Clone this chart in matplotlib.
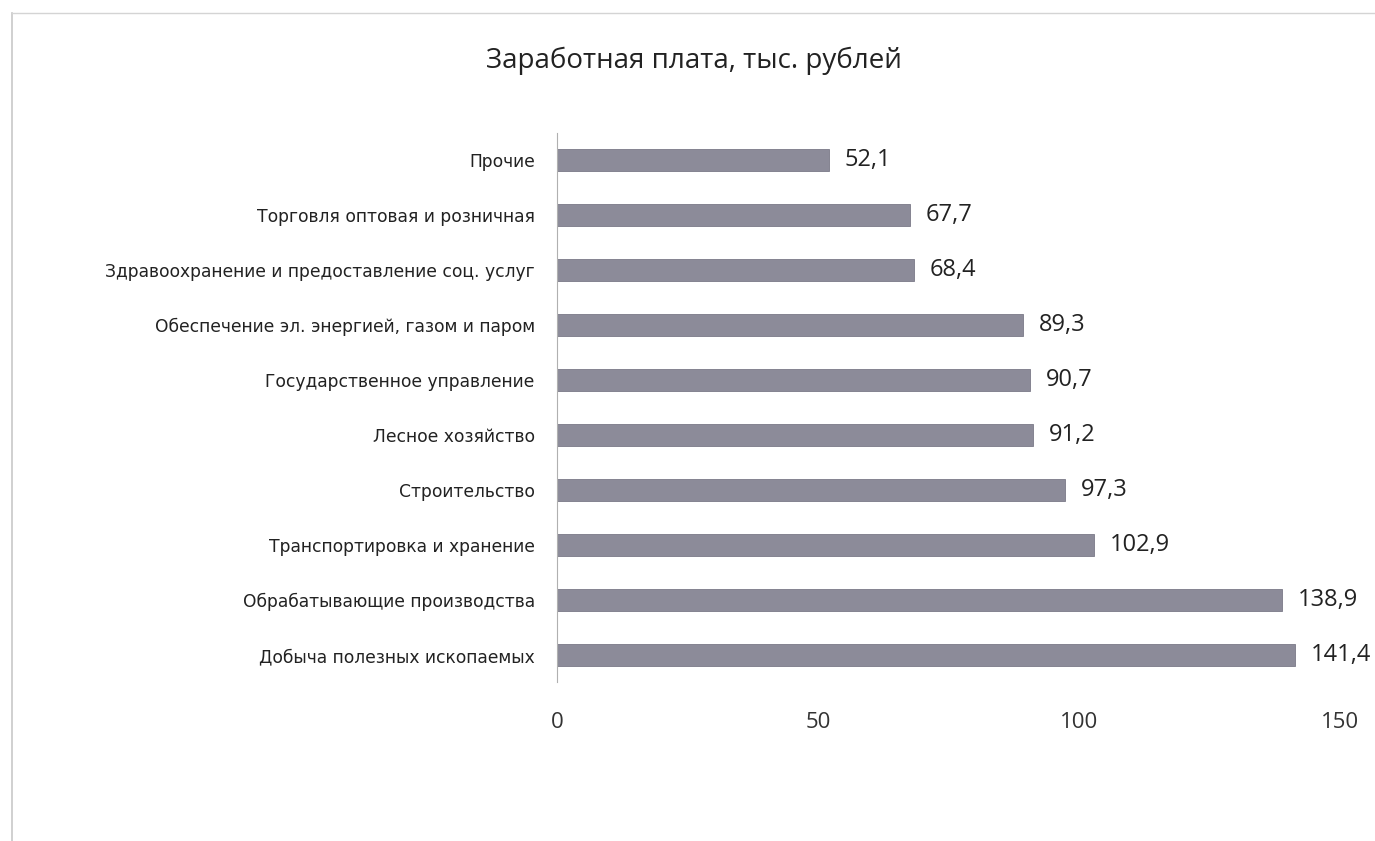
import matplotlib
matplotlib.use("Agg")
import matplotlib.pyplot as plt

categories = [
    "Добыча полезных ископаемых",
    "Обрабатывающие производства",
    "Транспортировка и хранение",
    "Строительство",
    "Лесное хозяйство",
    "Государственное управление",
    "Обеспечение эл. энергией, газом и паром",
    "Здравоохранение и предоставление соц. услуг",
    "Торговля оптовая и розничная",
    "Прочие",
]
values = [141.4, 138.9, 102.9, 97.3, 91.2, 90.7, 89.3, 68.4, 67.7, 52.1]
value_labels = ["141,4", "138,9", "102,9", "97,3", "91,2", "90,7", "89,3", "68,4", "67,7", "52,1"]
xticks = [0, 50, 100, 150]
title = "Заработная плата, тыс. рублей"

plt.rcParams["font.family"] = ["Open Sans", "DejaVu Sans"]

fig = plt.figure(figsize=(13.75, 8.41), dpi=100)
ax = fig.add_axes([0.405, 0.1885, 0.5695, 0.6539])

y = list(range(len(categories)))
ax.barh(y, values, height=0.4, color="#8c8b99", edgecolor="#7a7987", linewidth=0.6)
ax.set_ylim(-0.5, len(categories) - 0.5)
ax.set_xlim(0, 150)
ax.set_yticks(y)
ax.set_yticklabels(categories, fontsize=12.3, family=["DejaVu Sans"], color="#222222")
ax.set_xticks(xticks)
ax.set_xticklabels([str(t) for t in xticks], fontsize=16, color="#333333")
ax.tick_params(axis="y", length=0, pad=16)
ax.tick_params(axis="x", length=0, pad=21)

for s in ["top", "right", "bottom"]:
    ax.spines[s].set_visible(False)
ax.spines["left"].set_color("#b0b0b0")
ax.spines["left"].set_linewidth(0.8)

for yi, v, lab in zip(y, values, value_labels):
    ax.text(v + 3.0, yi, lab, va="center", ha="left", fontsize=17, color="#222222")

fig.text(0.505, 0.928, title, ha="center", va="center", fontsize=20, color="#222222")

# scan frame lines
fig.add_artist(plt.Line2D([0.009, 0.009], [0.0, 0.985], color="#c8c8c8", linewidth=1.2, transform=fig.transFigure))
fig.add_artist(plt.Line2D([0.009, 1.0], [0.985, 0.985], color="#d4d4d4", linewidth=1.0, transform=fig.transFigure))

fig.savefig("out.png", dpi=100)
